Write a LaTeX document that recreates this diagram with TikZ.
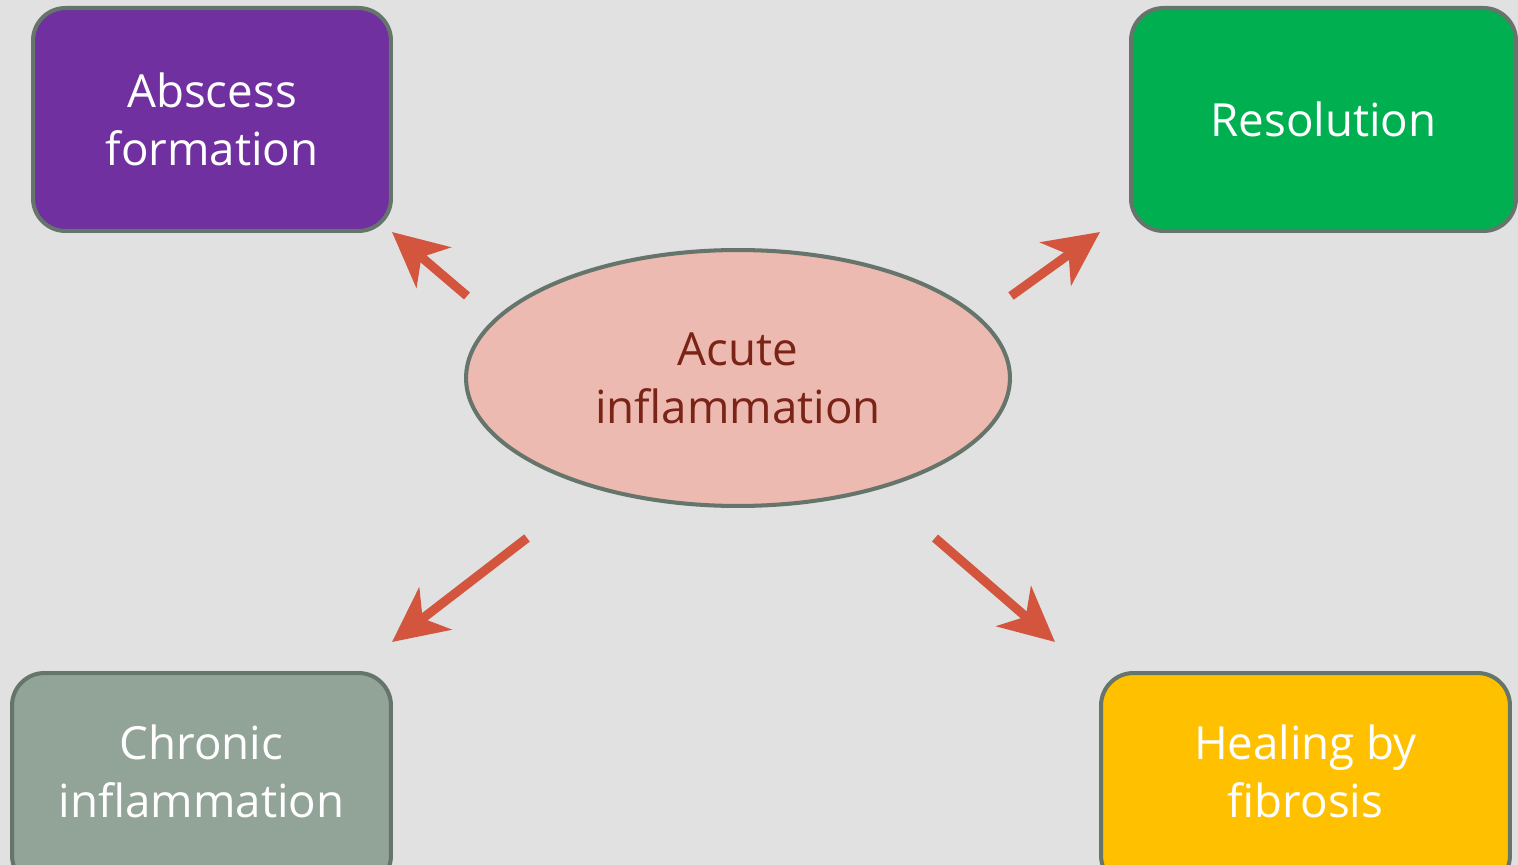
\documentclass[tikz,border=0pt]{standalone}
\usepackage{fontspec}
\setmainfont{Open Sans}
\usepackage{tikz}
\usetikzlibrary{arrows.meta,shapes.geometric}
\definecolor{InflBack}{HTML}{E1E1E1}
\definecolor{InflPurple}{HTML}{7030A0}
\definecolor{InflGreen}{HTML}{00B050}
\definecolor{InflSage}{HTML}{92A398}
\definecolor{InflGold}{HTML}{FFC000}
\definecolor{InflPink}{HTML}{ECBAB0}
\definecolor{InflRim}{HTML}{66756B}
\definecolor{InflRed}{HTML}{D3553E}
\definecolor{InflText}{HTML}{7A2418}
\tikzset{
  outcomebox/.style={draw=InflRim,line width=2.3pt,rounded corners=6.5mm,align=center,inner sep=0pt,text=white,font=\fontsize{26}{33}\selectfont},
  acutenode/.style={ellipse,draw=InflRim,line width=2.3pt,fill=InflPink,align=center,inner sep=0pt,minimum width=10.88cm,minimum height=5.12cm,text=InflText,font=\fontsize{26}{33}\selectfont},
  outcomearrow/.style={-{Stealth[length=31pt,width=30pt,inset=9pt]},line width=5.2pt,draw=InflRed}
}
\begin{document}
\begin{tikzpicture}[x=0.02cm,y=-0.02cm]
\fill[InflBack] (0,0) rectangle (1518,865);
\useasboundingbox (0,0) rectangle (1518,865);
\node[acutenode] (acute) at (738,378) {Acute\\inflammation};
\node[outcomebox,fill=InflPurple,minimum width=7.16cm,minimum height=4.46cm] (abscess) at (212,119.5) {Abscess\\formation};
\node[outcomebox,fill=InflGreen,minimum width=7.7cm,minimum height=4.46cm] (resol) at (1323.5,119.5) {Resolution};
\node[outcomebox,fill=InflSage,minimum width=7.58cm,minimum height=4.3cm] (chronic) at (201.5,780.5) {Chronic\\inflammation\\[-0.78cm]};
\node[outcomebox,fill=InflGold,minimum width=8.18cm,minimum height=4.3cm] (healing) at (1305.5,780.5) {Healing by\\fibrosis\\[-0.78cm]};
% arrow ends sit a little off the shapes
\coordinate (absFrom) at (467,296);
\coordinate (absTo) at (392,232);
\coordinate (resFrom) at (1011,296);
\coordinate (resTo) at (1100,232);
\coordinate (chrFrom) at (527,538);
\coordinate (chrTo) at (392,642);
\coordinate (heaFrom) at (935,538);
\coordinate (heaTo) at (1055,642);
\draw[outcomearrow] (absFrom)--(absTo);
\draw[outcomearrow] (resFrom)--(resTo);
\draw[outcomearrow] (chrFrom)--(chrTo);
\draw[outcomearrow] (heaFrom)--(heaTo);
\end{tikzpicture}
\end{document}
